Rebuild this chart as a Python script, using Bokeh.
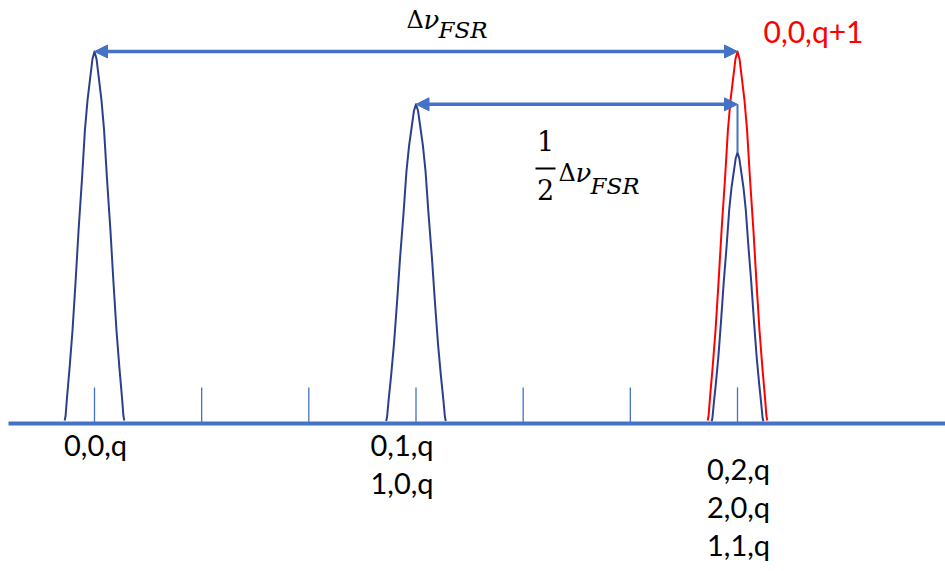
import numpy as np
from bokeh.plotting import figure
from bokeh.models import Range1d, Arrow, NormalHead
from bokeh.embed import file_html
from bokeh.resources import INLINE
from bokeh.core.properties import value

# ---------------- data (frequency in units of the free spectral range) ----------------
mode_freq = [0.0, 0.5, 1.0]                 # blue resonances
mode_amp = [1.0, 0.858, 0.728]
mode_halfwidth = [0.045, 0.045, 0.039]
red_freq = 1.0                              # 0,0,q+1 resonance
red_amp = 1.0
red_halfwidth = 0.045
tick_freq = [0.0, 1 / 6, 2 / 6, 3 / 6, 4 / 6, 5 / 6, 1.0]
tick_height = 0.097
mode_labels = [["0,0,q"], ["0,1,q", "1,0,q"], ["0,2,q", "2,0,q", "1,1,q"]]
red_label = "0,0,q+1"
# line profile: offset (in half-widths) vs relative height
profile_offset = [0.0, 0.07, 0.155, 0.24, 0.33, 0.43, 0.55, 0.655, 0.76, 0.86, 0.95, 1.0, 1.03]
profile_height = [1.0, 0.98, 0.925, 0.87, 0.79, 0.66, 0.52, 0.38, 0.25, 0.15, 0.07, 0.02, 0.008]

# ---------------- layout ----------------
W, H = 945, 571
X0, XS = 94.0, 643.0      # pixel of frequency 0, pixels per FSR
Y0, YS = 423.0, 372.0     # pixel of baseline, pixels per unit amplitude
SHIFT = 13                # text baseline correction (px)


def px(x):
    return (x - X0) / XS


def py(y):
    return (Y0 - y) / YS


def pt(y):
    return py(y - SHIFT)


BLUE = "#4472C4"
PEAK = "#2C3F8F"
RED = "#FF0000"

p = figure(width=W, height=H, output_backend="svg", toolbar_location=None,
           x_range=Range1d(px(0), px(W)), y_range=Range1d(py(H), py(0)),
           x_axis_type=None, y_axis_type=None, min_border=0)
p.grid.visible = False
p.outline_line_color = None
p.background_fill_color = "white"
p.border_fill_color = "white"

# baseline and ticks
p.segment(x0=[px(8)], y0=[0], x1=[px(W)], y1=[0], line_color=BLUE, line_width=4)
p.segment(x0=tick_freq, y0=[0] * len(tick_freq), x1=tick_freq,
          y1=[tick_height] * len(tick_freq), line_color=BLUE, line_width=1.3)


def peak(f, a, w):
    off = np.array(profile_offset)
    hgt = np.array(profile_height)
    xs = np.concatenate([f - off[::-1] * w, f + off[1:] * w])
    ys = np.concatenate([hgt[::-1], hgt[1:]]) * a
    return xs, ys


for f, a, w in zip(mode_freq, mode_amp, mode_halfwidth):
    xs, ys = peak(f, a, w)
    p.line(xs, ys, line_color=PEAK, line_width=2, line_join="round")

xs, ys = peak(red_freq, red_amp, red_halfwidth)
p.line(xs, ys, line_color=RED, line_width=2, line_join="round")

# connecting vertical line
p.segment(x0=[mode_freq[2]], y0=[mode_amp[1]], x1=[mode_freq[2]], y1=[mode_amp[2]],
          line_color=BLUE, line_width=2)

# arrows
for (xa, xb, ya) in [(mode_freq[0], red_freq, red_amp), (mode_freq[1], mode_freq[2], mode_amp[1])]:
    p.add_layout(Arrow(x_start=xa, y_start=ya, x_end=xb, y_end=ya,
                       line_color=BLUE, line_width=3.5,
                       start=NormalHead(size=13, fill_color=BLUE, line_color=BLUE, line_width=1),
                       end=NormalHead(size=13, fill_color=BLUE, line_color=BLUE, line_width=1)))

# mode labels
label_dx = [1, -14, 1]
label_first_baseline = [457, 457, 481]
LINE_GAP = 38
lx, ly, lt = [], [], []
for f, labs, dx, b in zip(mode_freq, mode_labels, label_dx, label_first_baseline):
    for i, t in enumerate(labs):
        lx.append(f + dx / XS)
        ly.append(pt(b + i * LINE_GAP))
        lt.append(t)
p.text(x=lx, y=ly, text=lt, text_font=value("Lato"), text_font_size=value("29px"),
       text_align="center", text_baseline="alphabetic", text_color="black")

p.text(x=[red_freq + 26 / XS], y=[pt(43)], text=[red_label], text_font=value("Lato"),
       text_font_size=value("30px"), text_align="left", text_baseline="alphabetic",
       text_color=RED)


def delta_nu(xl, base, sub_base):
    p.text(x=[px(xl)], y=[pt(base)], text=["Δ"], text_font=value("DejaVu Serif"),
           text_font_size=value("24px"), text_align="left", text_baseline="alphabetic",
           text_color="black")
    p.text(x=[px(xl + 17)], y=[pt(base)], text=["ν"], text_font=value("DejaVu Serif"),
           text_font_style="italic", text_font_size=value("26px"), text_align="left",
           text_baseline="alphabetic", text_color="black")
    p.text(x=[px(xl + 32)], y=[pt(sub_base)], text=["FSR"], text_font=value("DejaVu Serif"),
           text_font_style="italic", text_font_size=value("23px"), text_align="left",
           text_baseline="alphabetic", text_color="black")


delta_nu(406, 32, 42)
delta_nu(558, 185, 198)

# fraction 1/2
p.text(x=[px(545), px(545)], y=[pt(153), pt(202)], text=["1", "2"],
       text_font=value("DejaVu Serif"), text_font_size=value("27px"),
       text_align="center", text_baseline="alphabetic", text_color="black")
p.segment(x0=[px(535)], y0=[py(168)], x1=[px(555)], y1=[py(168)], line_color="black", line_width=2)

open("out.html", "w").write(file_html(p, INLINE))
